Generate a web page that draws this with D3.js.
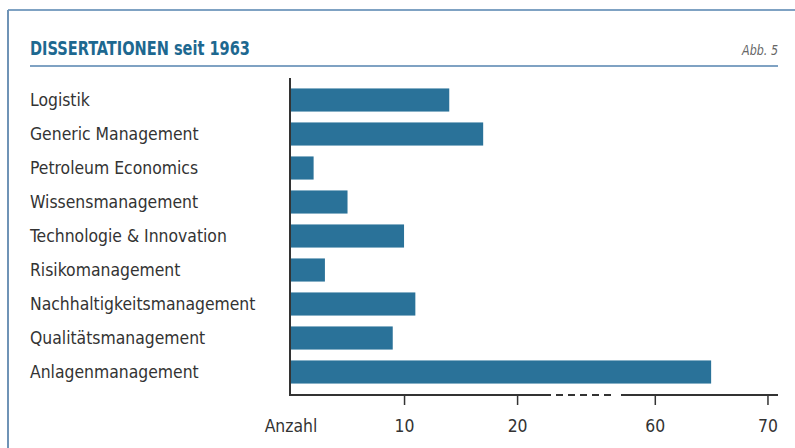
<!DOCTYPE html>
<html>
<head>
<meta charset="utf-8">
<script src="https://cdn.jsdelivr.net/npm/d3@7"></script>
<style>
  body { margin: 0; background: #fff; }
  text { font-family: "DejaVu Sans Condensed", "Liberation Sans Narrow", "Roboto", sans-serif; }
</style>
</head>
<body>
<div id="plot"></div>
<script>
// data
const categories = ["Logistik", "Generic Management", "Petroleum Economics", "Wissensmanagement",
  "Technologie & Innovation", "Risikomanagement", "Nachhaltigkeitsmanagement",
  "Qualitätsmanagement", "Anlagenmanagement"];
const values = [14, 17, 2, 5, 10, 3, 11, 9, 65];
const tickValues = [10, 20, 60, 70];
const breakStart = 23;
const breakEnd = 57;

const w = 795;
const h = 448;
const squeeze = 0.94; // narrow the text a bit, the original font is condensed

const svg = d3.select("div#plot")
  .append("svg")
    .attr("width", w)
    .attr("height", h);

// frame (top + left)
svg.append("line")
  .attr("x1", 8).attr("x2", w).attr("y1", 10).attr("y2", 10)
  .attr("stroke", "#7fa2c3").attr("stroke-width", 2);
svg.append("line")
  .attr("x1", 8).attr("x2", 8).attr("y1", 10).attr("y2", h)
  .attr("stroke", "#6f93b6").attr("stroke-width", 2);

// title
svg.append("text")
  .attr("x", 30).attr("y", 55)
  .attr("fill", "#1d6890")
  .attr("font-size", 19)
  .attr("font-weight", "bold")
  .attr("textLength", 220)
  .attr("lengthAdjust", "spacingAndGlyphs")
  .text("DISSERTATIONEN seit 1963");

svg.append("text")
  .attr("x", 778).attr("y", 55)
  .attr("text-anchor", "end")
  .attr("fill", "#666")
  .attr("font-size", 14.5)
  .attr("font-style", "italic")
  .attr("textLength", 36)
  .attr("lengthAdjust", "spacingAndGlyphs")
  .text("Abb. 5");

svg.append("line")
  .attr("x1", 30).attr("x2", 778).attr("y1", 66).attr("y2", 66)
  .attr("stroke", "#7fa2c3").attr("stroke-width", 2);

// scales (broken axis)
const xScale = d3.scaleLinear()
  .domain([0, breakStart, breakEnd, 72])
  .range([291, 551, 621, 790]);

const yScale = d3.scaleBand()
  .domain(categories)
  .range([83, 389])
  .paddingInner(0.32)
  .paddingOuter(0.16);

// bars
svg.append("g")
  .selectAll("rect")
  .data(values)
  .enter()
  .append("rect")
    .attr("x", xScale(0))
    .attr("y", (d, i) => yScale(categories[i]))
    .attr("width", d => xScale(d) - xScale(0))
    .attr("height", yScale.bandwidth())
    .attr("fill", "#2a7299");

// category labels
svg.append("g")
  .selectAll("text")
  .data(categories)
  .enter()
  .append("text")
    .attr("transform", d => `translate(30, ${yScale(d) + yScale.bandwidth() / 2}) scale(${squeeze}, 1)`)
    .attr("dy", "0.34em")
    .attr("fill", "#333")
    .attr("font-size", 18.5)
    .text(d => d);

const axisY = 395;

// y axis line
svg.append("line")
  .attr("x1", 290).attr("x2", 290).attr("y1", 78).attr("y2", axisY + 1)
  .attr("stroke", "#333").attr("stroke-width", 2);

// x axis
const xAxis = d3.axisBottom(xScale)
  .tickValues(tickValues)
  .tickSize(10)
  .tickPadding(14)
  .tickFormat(d3.format("d"));

const gx = svg.append("g")
  .attr("transform", `translate(0, ${axisY})`)
  .call(xAxis);
gx.select(".domain").remove();
gx.selectAll(".tick line").attr("stroke", "#333").attr("stroke-width", 1.5);
gx.selectAll(".tick text")
  .attr("fill", "#333")
  .attr("font-size", 18.5)
  .attr("transform", `scale(${squeeze}, 1)`)
  .style("font-family", "'DejaVu Sans Condensed', sans-serif");

// axis segments
svg.append("line")
  .attr("x1", 289).attr("x2", xScale(breakStart)).attr("y1", axisY).attr("y2", axisY)
  .attr("stroke", "#333").attr("stroke-width", 2);
svg.append("line")
  .attr("x1", xScale(breakStart) + 5).attr("x2", xScale(breakEnd) - 6).attr("y1", axisY).attr("y2", axisY)
  .attr("stroke", "#333").attr("stroke-width", 2)
  .attr("stroke-dasharray", "7,5");
svg.append("line")
  .attr("x1", xScale(breakEnd)).attr("x2", 778).attr("y1", axisY).attr("y2", axisY)
  .attr("stroke", "#333").attr("stroke-width", 2);

svg.append("text")
  .attr("transform", `translate(${xScale(0)}, ${axisY + 24}) scale(${squeeze}, 1)`)
  .attr("dy", "0.71em")
  .attr("text-anchor", "middle")
  .attr("fill", "#333")
  .attr("font-size", 18.5)
  .text("Anzahl");
</script>
</body>
</html>
